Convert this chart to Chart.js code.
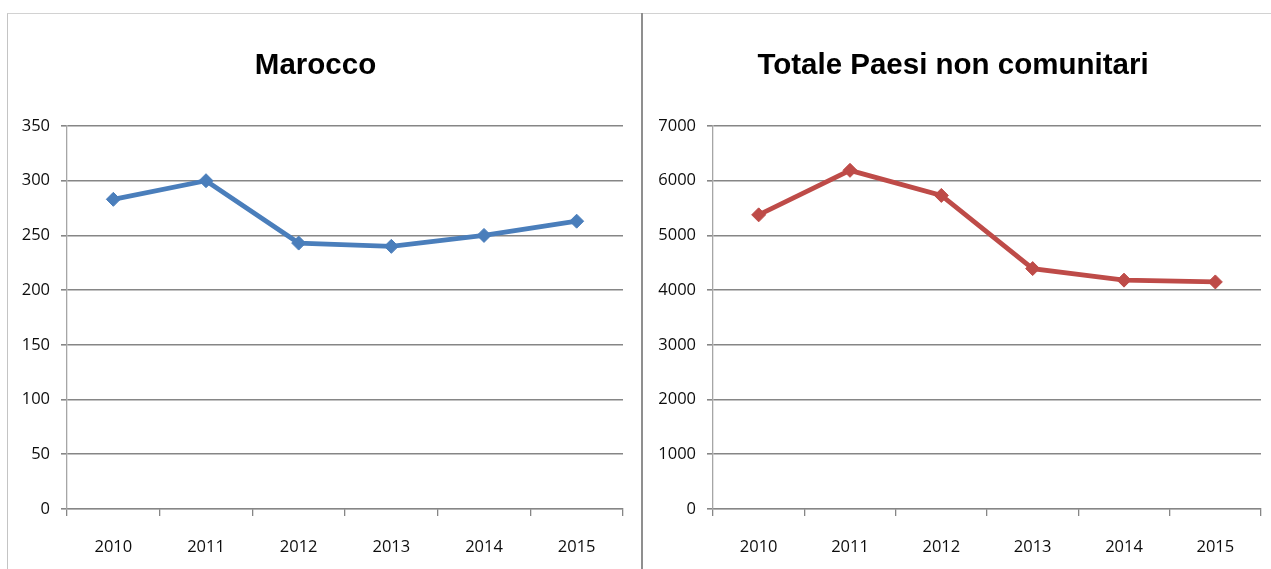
<!DOCTYPE html>
<html>
<head>
<meta charset="utf-8">
<script src="https://cdn.jsdelivr.net/npm/chart.js@4"></script>
<style>
  html, body { margin: 0; padding: 0; background: #fff; }
  body { width: 1271px; height: 569px; position: relative; overflow: hidden; }
  #frame { position: absolute; left: 7px; top: 13px; width: 1264px; height: 556px;
           border-top: 1px solid #d2d2d2; border-left: 1px solid #c4c4c4; box-sizing: border-box; }
  #divider { position: absolute; left: 641px; top: 13px; width: 2px; height: 556px; background: #8f8f8f; }
  .box { position: absolute; top: 14px; height: 555px; }
  #left { left: 8px; width: 633px; }
  #right { left: 645px; width: 626px; }
</style>
</head>
<body>
<div id="frame"></div>
<div id="divider"></div>
<div class="box" id="left"><canvas id="chartMarocco"></canvas></div>
<div class="box" id="right"><canvas id="chartTotale"></canvas></div>
<script>
// values
const years = ['2010', '2011', '2012', '2013', '2014', '2015'];
const marocco = [283, 300, 243, 240, 250, 263];
const totaleNonComunitari = [5376, 6190, 5731, 4394, 4183, 4150];
const maroccoTicks = [0, 50, 100, 150, 200, 250, 300, 350];
const totaleTicks = [0, 1000, 2000, 3000, 4000, 5000, 6000, 7000];

const TITLE_FONT = "'Liberation Sans', Arial, sans-serif";
const TICK_FONT = "'Open Sans', sans-serif";
const gridColor = '#868686';
const textColor = '#0d0d0d';

/**
 * Builds one of the two line charts; yWidth / padRight pin the plot area.
 */
function buildChart(canvasId, title, values, ticks, color, yWidth, padRight) {
    const ctx = document.getElementById(canvasId).getContext('2d');
    const step = ticks[1] - ticks[0];
    return new Chart(ctx, {
        type: 'line',
        data: {
            labels: years,
            datasets: [{
                label: title,
                data: values,
                borderColor: color,
                backgroundColor: color,
                borderWidth: 4.8,
                tension: 0,
                pointStyle: 'rectRot',
                pointRadius: 7,
                pointBorderWidth: 1,
                pointBackgroundColor: color,
                pointBorderColor: color
            }]
        },
        options: {
            responsive: true, maintainAspectRatio: false, animation: false,
            layout: { padding: { left: 0, right: padRight, top: 0, bottom: 0 } },
            plugins: {
                legend: { display: false },
                tooltip: { enabled: false },
                title: {
                    display: true, text: title, color: '#000',
                    font: { family: TITLE_FONT, size: 29.5, weight: 'bold', lineHeight: 1.2 },
                    padding: { top: 34, bottom: 42.6 }
                }
            },
            scales: {
                x: {
                    offset: true,
                    grid: { offset: true, drawOnChartArea: false, drawTicks: true, tickLength: 7, color: gridColor, lineWidth: 1.3 },
                    border: { display: true, color: gridColor, width: 1.3 },
                    ticks: { color: textColor, font: { family: TICK_FONT, size: 16.5 }, padding: 21, maxRotation: 0 },
                    afterFit: (scale) => { scale.height = 60; }
                },
                y: {
                    min: ticks[0], max: ticks[ticks.length - 1],
                    grid: { color: gridColor, lineWidth: 1.6, drawTicks: true, tickLength: 6 },
                    border: { display: true, color: '#a6a6a6', width: 1.3 },
                    ticks: {
                        stepSize: step, color: textColor, font: { family: TICK_FONT, size: 16.5 }, padding: 11,
                        callback: (v) => String(v)
                    },
                    afterFit: (scale) => { scale.width = yWidth; }
                }
            }
        }
    });
}

buildChart('chartMarocco', 'Marocco', marocco, maroccoTicks, '#4a7ebb', 59, 18);
buildChart('chartTotale', 'Totale Paesi non comunitari', totaleNonComunitari, totaleTicks, '#be4b48', 68, 10);
</script>
</body>
</html>
